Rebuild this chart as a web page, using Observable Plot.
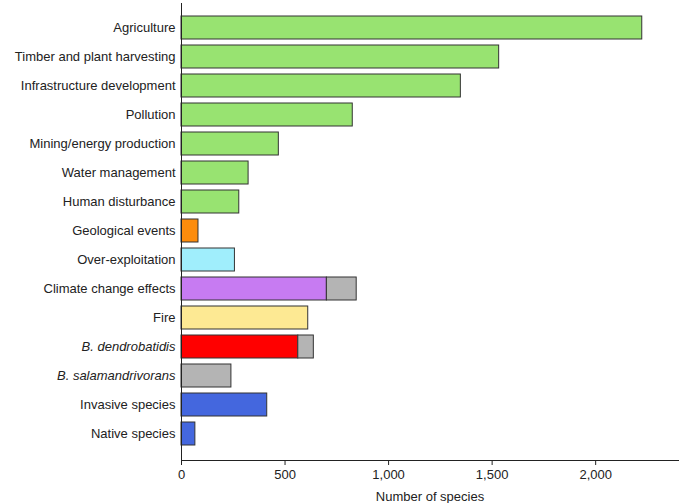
<!DOCTYPE html>
<html><head><meta charset="utf-8">
<script src="https://cdn.jsdelivr.net/npm/d3@7"></script>
<script src="https://cdn.jsdelivr.net/npm/@observablehq/plot@0.6"></script>
<style>body{margin:0;background:#fff}</style>
</head><body><div id="chart"></div>
<script>
const categories = ["Agriculture","Timber and plant harvesting","Infrastructure development","Pollution","Mining/energy production","Water management","Human disturbance","Geological events","Over-exploitation","Climate change effects","Fire","B. dendrobatidis","B. salamandrivorans","Invasive species","Native species"];
const mainValues = [2225,1534,1349,827,470,324,279,82,258,702,612,564,241,414,67];
const greyValues = [0,0,0,0,0,0,0,0,0,144,0,75,0,0,0];
const colors = ["#98e371","#98e371","#98e371","#98e371","#98e371","#98e371","#98e371","#fd8c0c","#a0eefc","#c77bf2","#fde993","#ff0000","#b4b4b4","#4467de","#4467de"];
const italic = ["B. dendrobatidis","B. salamandrivorans"];
const xTicks = [0,500,1000,1500,2000];

const segs = [];
categories.forEach((c,i)=>{
  segs.push({cat:c,x1:0,x2:mainValues[i],fill:colors[i]});
  if (greyValues[i]>0) segs.push({cat:c,x1:mainValues[i],x2:mainValues[i]+greyValues[i],fill:"#b4b4b4"});
});
const font = "'Liberation Sans', Arial, sans-serif";
const chart = Plot.plot({
  width:680, height:503,
  marginLeft:181, marginRight:2, marginTop:3, marginBottom:43,
  style:{fontFamily:font, fontSize:"13px", color:"#222"},
  x:{domain:[0,2400]},
  y:{domain:categories, range:[3,458], padding:0.2, axis:null},
  marks:[
    Plot.barX(segs,{y:"cat",x1:"x1",x2:"x2",fill:"fill",stroke:"#333",strokeWidth:1}),
    Plot.text(categories.filter(c=>!italic.includes(c)),{y:d=>d,x:0,text:d=>d,dx:-6,textAnchor:"end",fontSize:13,fill:"#222"}),
    Plot.text(categories.filter(c=>italic.includes(c)),{y:d=>d,x:0,text:d=>d,dx:-6,textAnchor:"end",fontSize:13,fontStyle:"italic",fill:"#222"}),
    Plot.axisX({ticks:xTicks, tickFormat:d3.format(","), tickSize:5, fontSize:13, label:null}),
    Plot.text(["Number of species"],{frameAnchor:"bottom",dy:40,fontSize:13,fill:"#222"}),
    Plot.ruleX([0],{stroke:"#222"}),
    Plot.frame({anchor:"bottom",stroke:"#222"})
  ]
});
document.getElementById("chart").appendChild(chart);
</script></body></html>
